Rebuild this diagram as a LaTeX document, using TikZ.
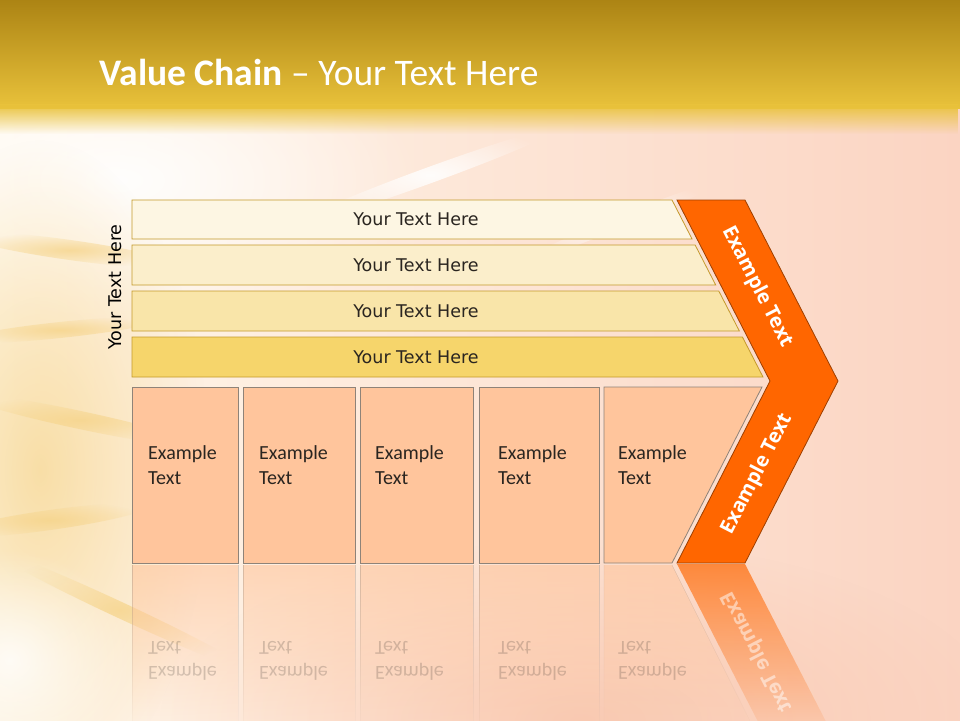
\documentclass[tikz,border=0pt]{standalone}
\usepackage{fontspec}
\setmainfont{Carlito}
\newfontfamily\vfont{DejaVu Sans}
\newfontfamily\cfont{Open Sans}
\usetikzlibrary{fadings}

\definecolor{bandtop}{HTML}{AC8414}
\definecolor{bandbot}{HTML}{E9C23B}
\definecolor{bgleft}{HTML}{FFF8EC}
\definecolor{bgmid}{HTML}{FCE0C8}
\definecolor{bgright}{HTML}{FBD4C2}
\definecolor{streak}{HTML}{F6D48A}
\definecolor{blush}{HTML}{F8C0A6}
\definecolor{barA}{HTML}{FDF6E3}
\definecolor{barB}{HTML}{FBEECB}
\definecolor{barC}{HTML}{F9E5A9}
\definecolor{barD}{HTML}{F6D56B}
\definecolor{barline}{HTML}{C49A2C}
\definecolor{boxfill}{HTML}{FFC59C}
\definecolor{boxline}{HTML}{8F8378}
\definecolor{chev}{HTML}{FF6600}
\definecolor{chevline}{HTML}{9E3F00}
\definecolor{txtdark}{HTML}{2A2520}

\tikzfading[name=softglow,inner color=transparent!0,outer color=transparent!100]

\tikzset{
  bar/.style={draw=barline,line width=0.8pt},
  box/.style={fill=boxfill,draw=boxline,line width=0.8pt},
  chevron/.style={fill=chev,draw=chevline,line width=0.8pt},
  haze/.style={path fading=softglow},
  bartext/.style={font=\vfont\fontsize{17.5}{20}\selectfont,text=txtdark},
  boxtext/.style={font=\fontsize{20}{25}\selectfont,align=left,anchor=north west,inner sep=0pt,text=txtdark},
  chevtext/.style={font=\cfont\bfseries\fontsize{20}{24}\selectfont,text=white},
}

\begin{document}
\begin{tikzpicture}[x=1pt,y=-1pt]
  \useasboundingbox (0,0) rectangle (960,720);

  % backdrop
  \shade[left color=bgleft,middle color=bgmid,right color=bgright] (0,0) rectangle (960,720);
  \fill[white,haze,opacity=.9] (120,180) ellipse [x radius=300,y radius=150];
  \fill[streak,haze,opacity=.7] (40,470) ellipse [x radius=170,y radius=330];
  \fill[white,haze,opacity=.8] (10,660) ellipse [x radius=120,y radius=110];
  \foreach \cx/\cy/\rx/\ry/\ang in {70/250/110/10/-8,60/330/100/8/6,80/420/120/9/-12,50/520/100/10/8,120/610/140/8/-25}{
    \fill[streak,haze,opacity=.8,rotate around={\ang:(\cx,\cy)}] (\cx,\cy) ellipse [x radius=\rx,y radius=\ry];
  }
  \fill[white,haze,opacity=.9,rotate around={20:(430,175)}] (430,175) ellipse [x radius=140,y radius=8];
  \fill[white,haze,opacity=.8,rotate around={22:(620,222)}] (620,222) ellipse [x radius=110,y radius=6];
  \fill[blush,haze,opacity=.7] (580,720) ellipse [x radius=420,y radius=180];
  \shade[top color=bandtop,bottom color=bandbot] (0,0) rectangle (960,108);
  \fill[bandbot,path fading=south] (0,104) rectangle (960,134);

  \node[anchor=base west,text=white,font=\fontsize{37.5}{42}\selectfont] (title) at (96,85)
    {\textbf{Value Chain} \textendash{} Your Text Here};

  \foreach \ya/\yb/\col [count=\i] in {200/239/barA,245/285/barB,291/331/barC,337/377/barD}{
    \filldraw[bar,fill=\col] (132,\ya) -- ({672+0.514*(\ya-200)},\ya) -- ({672+0.514*(\yb-200)},\yb) -- (132,\yb) -- cycle;
    \node[bartext] (row\i) at (416,{(\ya+\yb)/2}) {Your Text Here};
  }
  \node[bartext,text=black,rotate=90] (side) at (115,287) {Your Text Here};

  \foreach \xa/\xb/\xt [count=\i] in {132/238/148,243/355/259,360/473/375,479/599/498}{
    \filldraw[box] (\xa,387) rectangle (\xb,563);
    \node[boxtext] (act\i) at (\xt,445) {Example\\Text};
    \fill[boxfill,fill opacity=.6,path fading=south] (\xa,565) rectangle (\xb,735);
    \draw[boxline,opacity=.35,path fading=south] (\xa,565) -- (\xa,735) (\xb,565) -- (\xb,735);
    \node[boxtext,yscale=-1,opacity=.2] (mir\i) at (\xt,681) {Example\\Text};
  }
  \filldraw[box] (604,387) -- (762,387) -- (672,563) -- (604,563) -- cycle;
  \node[boxtext] (act5) at (618,445) {Example\\Text};
  \fill[boxfill,fill opacity=.6,path fading=south] (604,565) -- (672,565) -- (757,735) -- (604,735) -- cycle;
  \draw[boxline,opacity=.35,path fading=south] (604,565) -- (604,735) (672,565) -- (757,735);
  \node[boxtext,yscale=-1,opacity=.2] (mir5) at (618,681) {Example\\Text};

  \filldraw[chevron] (677,200) -- (745,200) -- (838,381) -- (745,563) -- (677,563) -- (770,381) -- cycle;
  \node[chevtext,rotate=-62.8] (upper) at (757,287) {Example Text};
  \node[chevtext,rotate=62.8] (lower) at (757,474) {Example Text};

  \fill[chev,fill opacity=.7,path fading=south] (677,564) -- (745,564) -- (838,745) -- (770,745) -- cycle;
  \node[chevtext,yscale=-1,rotate=62.8,opacity=.5] (echo) at (757,652) {Example Text};
\end{tikzpicture}
\end{document}
